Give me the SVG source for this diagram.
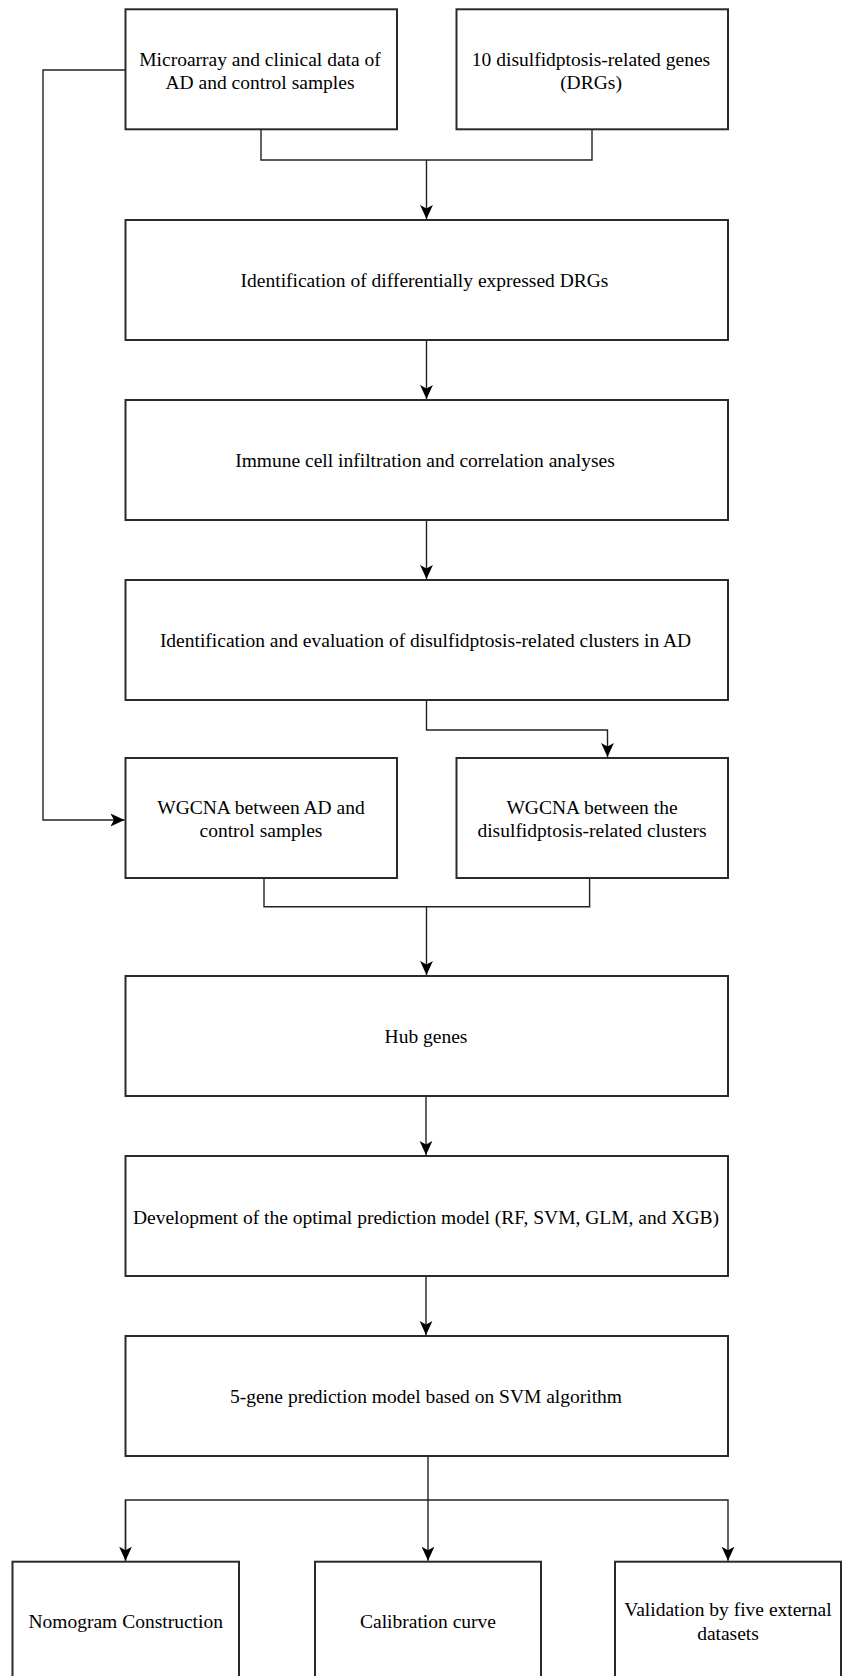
<svg xmlns="http://www.w3.org/2000/svg" width="843" height="1676" viewBox="0 0 843 1676">
<style>
.box{fill:#fff;stroke:#2a2a2a;stroke-width:2}
.t{font-family:"Liberation Serif","Times New Roman",serif;font-size:19.5px;fill:#000;text-anchor:middle}
.c{fill:none;stroke:#222;stroke-width:1.4}
</style>
<defs>
<marker id="ar" markerUnits="userSpaceOnUse" markerWidth="14" markerHeight="14" viewBox="0 0 14 14" refX="14" refY="7" orient="auto">
<path d="M0,0.6 L14,7 L0,13.4 L3.5,7 z" fill="#000"/>
</marker>
</defs>
<rect width="843" height="1676" fill="#fff"/>
<g id="connectors">
<path class="c" d="M261,130 V160 H592 V130"/>
<path class="c" d="M426.5,160 V219" marker-end="url(#ar)"/>
<path class="c" d="M125.5,70 H43 V820 H124.5" marker-end="url(#ar)"/>
<path class="c" d="M426.5,340 V399" marker-end="url(#ar)"/>
<path class="c" d="M426.5,520 V579" marker-end="url(#ar)"/>
<path class="c" d="M426.5,700 V730 H607.5 V757" marker-end="url(#ar)"/>
<path class="c" d="M264,878 V906.7 H589.6 V878"/>
<path class="c" d="M426.5,906.7 V975" marker-end="url(#ar)"/>
<path class="c" d="M426,1096 V1155" marker-end="url(#ar)"/>
<path class="c" d="M426,1276 V1335" marker-end="url(#ar)"/>
<path class="c" d="M428,1456 V1560.7" marker-end="url(#ar)"/>
<path class="c" d="M125.5,1560.7 V1500 H728 V1560.7" marker-end="url(#ar)"/>
<path class="c" d="M125.5,1500 V1560.7" marker-end="url(#ar)"/>
</g>
<g id="n1"><rect class="box" x="125.5" y="9.3" width="271.5" height="120"/>
<text class="t" x="260" y="65.7">Microarray and clinical data of</text>
<text class="t" x="260" y="88.5">AD and control samples</text></g>
<g id="n2"><rect class="box" x="456.5" y="9.3" width="271.5" height="120"/>
<text class="t" x="591" y="65.7">10 disulfidptosis-related genes</text>
<text class="t" x="591" y="88.5">(DRGs)</text></g>
<g id="n3"><rect class="box" x="125.5" y="220" width="602.5" height="120"/>
<text class="t" x="424.5" y="287.3">Identification of differentially expressed DRGs</text></g>
<g id="n4"><rect class="box" x="125.5" y="400" width="602.5" height="120"/>
<text class="t" x="425" y="467.3">Immune cell infiltration and correlation analyses</text></g>
<g id="n5"><rect class="box" x="125.5" y="580" width="602.5" height="120"/>
<text class="t" x="425.5" y="647.3">Identification and evaluation of disulfidptosis-related clusters in AD</text></g>
<g id="n6"><rect class="box" x="125.5" y="758" width="271.5" height="120"/>
<text class="t" x="261" y="813.7">WGCNA between AD and</text>
<text class="t" x="261" y="837.3">control samples</text></g>
<g id="n7"><rect class="box" x="456.5" y="758" width="271.5" height="120"/>
<text class="t" x="592" y="813.7">WGCNA between the</text>
<text class="t" x="592" y="837.3">disulfidptosis-related clusters</text></g>
<g id="n8"><rect class="box" x="125.5" y="976" width="602.5" height="120"/>
<text class="t" x="426" y="1043">Hub genes</text></g>
<g id="n9"><rect class="box" x="125.5" y="1156" width="602.5" height="120"/>
<text class="t" x="426" y="1223.5">Development of the optimal prediction model (RF, SVM, GLM, and XGB)</text></g>
<g id="n10"><rect class="box" x="125.5" y="1336" width="602.5" height="120"/>
<text class="t" x="426" y="1403.3">5-gene prediction model based on SVM algorithm</text></g>
<g id="n11"><rect class="box" x="12.5" y="1561.7" width="226.5" height="140"/>
<text class="t" x="125.7" y="1627.5">Nomogram Construction</text></g>
<g id="n12"><rect class="box" x="315" y="1561.7" width="226" height="140"/>
<text class="t" x="428" y="1627.5">Calibration curve</text></g>
<g id="n13"><rect class="box" x="615" y="1561.7" width="226" height="140"/>
<text class="t" x="728" y="1616">Validation by five external</text>
<text class="t" x="728" y="1639.5">datasets</text></g>
</svg>
